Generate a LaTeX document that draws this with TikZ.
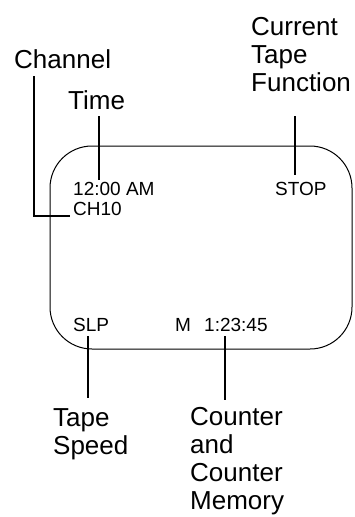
\documentclass[tikz,border=0pt]{standalone}
\usepackage{fontspec}
\setmainfont{Liberation Sans}
\begin{document}
\begin{tikzpicture}[x=1pt,y=-1pt,
  big/.style={font=\fontsize{26}{27.8}\selectfont, anchor=base west, inner sep=0pt, align=left},
  small/.style={font=\fontsize{19}{20}\selectfont, anchor=base west, inner sep=0pt},
  lead/.style={line width=2.2pt},
  screen/.style={draw, line width=1pt, rounded corners=42pt}]
\useasboundingbox (0,0) rectangle (354,517);
\draw[screen] (50,146) rectangle (352,349);
% labels (multi-line nodes: base = last line's baseline)
\node[big] (channel) at (14,68) {Channel};
\node[big] (time) at (68,109) {Time};
\node[big] (ctf) at (251,91) {Current\\Tape\\Function};
\node[big] (speed) at (53,454) {Tape\\Speed};
\node[big] (counter) at (190,509) {Counter\\and\\Counter\\Memory};
% screen texts
\node[small] (clock) at (73,195) {12:00 AM};
\node[small] (ch) at (73,215) {CH10};
\node[small] (stop) at (275,195) {STOP};
\node[small] (slp) at (73,331) {SLP};
\node[small] (mem) at (175,331) {M};
\node[small] (count) at (204,331) {1:23:45};
% connector ends
\coordinate (chTop) at (34,76);
\coordinate (chEnd) at (70,216);
\coordinate (timeTop) at (99,116);
\coordinate (timeEnd) at (99,180);
\coordinate (ctfTop) at (295,116);
\coordinate (ctfEnd) at (295,175);
\coordinate (slpTop) at (88,336);
\coordinate (slpEnd) at (88,398);
\coordinate (cntTop) at (225,336);
\coordinate (cntEnd) at (225,400);
\draw[lead] (chTop) |- (chEnd);
\draw[lead] (timeTop) -- (timeEnd);
\draw[lead] (ctfTop) -- (ctfEnd);
\draw[lead] (slpTop) -- (slpEnd);
\draw[lead] (cntTop) -- (cntEnd);
\end{tikzpicture}
\end{document}
